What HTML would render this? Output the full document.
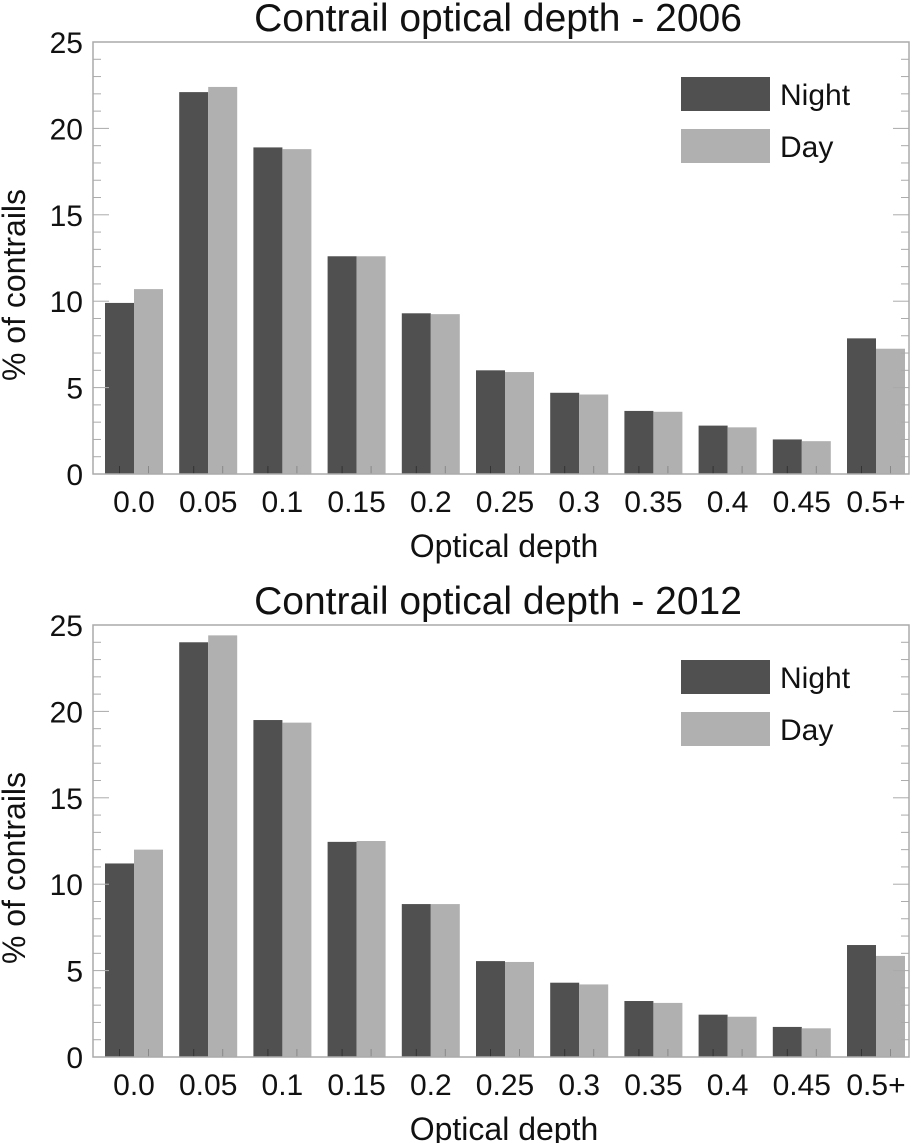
<!DOCTYPE html>
<html><head><meta charset="utf-8"><style>
html,body{margin:0;padding:0;background:#fff;}
svg{display:block;font-family:"Liberation Sans",Arial,sans-serif;}
</style></head><body>
<svg id="svg" width="913" height="1143" viewBox="0 0 913 1143"></svg>
<script>
const categories = ["0.0","0.05","0.1","0.15","0.2","0.25","0.3","0.35","0.4","0.45","0.5+"];
const yTicks = [0,5,10,15,20,25];
const night2006 = [9.9,22.1,18.9,12.6,9.3,6.0,4.7,3.65,2.8,2.0,7.85];
const day2006 = [10.7,22.4,18.8,12.6,9.25,5.9,4.6,3.6,2.7,1.9,7.25];
const night2012 = [11.2,24.0,19.5,12.45,8.85,5.55,4.3,3.24,2.45,1.74,6.48];
const day2012 = [12.0,24.4,19.35,12.5,8.85,5.5,4.2,3.13,2.33,1.66,5.85];
const titles = ["Contrail optical depth - 2006","Contrail optical depth - 2012"];

const NS="http://www.w3.org/2000/svg";
const svg=document.getElementById('svg');
function mk(tag,attrs,parent){const e=document.createElementNS(NS,tag);for(const k in attrs)e.setAttribute(k,attrs[k]);(parent||svg).appendChild(e);return e;}

function chart(top,bottom,title,night,day,idx){
  const g=mk('g',{});
  
  
  const L=93,R=909,ymax=25;
  const y=v=>bottom-(v/ymax)*(bottom-top);
  const pitch=74.2,c0=134,bw=29;
  const x=i=>c0+pitch*i;
  const t=mk('text',{x:498,y:top-11,'font-size':39,'text-anchor':'middle',fill:'#111'},g);
  t.textContent=title;
  
  
  for(let i=0;i<categories.length;i++){
    const b1=mk('rect',{x:x(i)-bw,y:y(night[i]),width:bw,height:bottom-y(night[i]),fill:'#505050'},g);
    
    
    const b2=mk('rect',{x:x(i),y:y(day[i]),width:bw,height:bottom-y(day[i]),fill:'#b0b0b0'},g);
    
    
    mk('line',{x1:x(i)-bw/2,x2:x(i)-bw/2,y1:bottom,y2:bottom-8,stroke:'#333','stroke-width':1},g);
    mk('line',{x1:x(i)+bw/2,x2:x(i)+bw/2,y1:bottom,y2:bottom-8,stroke:'#888','stroke-width':1},g);
    const lt=mk('text',{x:x(i),y:bottom+38,'font-size':30,'text-anchor':'middle',fill:'#111'},g);
    lt.textContent=categories[i];
    
    
  }
  for(let v=0;v<=25;v++){
    const len=v%5===0?16:8;
    mk('line',{x1:L,x2:L+len,y1:y(v),y2:y(v),stroke:'#aaa','stroke-width':1},g);
    mk('line',{x1:R,x2:R-len,y1:y(v),y2:y(v),stroke:'#aaa','stroke-width':1},g);
  }
  for(const v of yTicks){
    const yt=mk('text',{x:83,y:y(v)+11,'font-size':30,'text-anchor':'end',fill:'#111'},g);
    yt.textContent=v;
    
    
  }
  const box=mk('rect',{x:L,y:top,width:R-L,height:bottom-top,fill:'none',stroke:'#aaa','stroke-width':1.5},g);
  
  
  const xl=mk('text',{x:504,y:bottom+83,'font-size':32,'text-anchor':'middle',fill:'#111'},g);
  xl.textContent='Optical depth';
  
  
  const cy=(top+bottom)/2+27;
  const yl=mk('text',{x:25,y:cy,'font-size':32,'text-anchor':'middle',fill:'#111',transform:'rotate(-90 25 '+cy+')'},g);
  yl.textContent='% of contrails';
  
  
  const ly=top+35;
  const r1=mk('rect',{x:681,y:ly,width:89,height:34,fill:'#505050'},g);
  
  
  const t1=mk('text',{x:780,y:ly+28,'font-size':30,fill:'#111'},g);
  t1.textContent='Night';
  
  
  const r2=mk('rect',{x:681,y:ly+52,width:89,height:34,fill:'#b0b0b0'},g);
  
  
  const t2=mk('text',{x:780,y:ly+80,'font-size':30,fill:'#111'},g);
  t2.textContent='Day';
  
  
}
chart(42,474,titles[0],night2006,day2006,0);
chart(625,1057,titles[1],night2012,day2012,1);
</script>
</body></html>
